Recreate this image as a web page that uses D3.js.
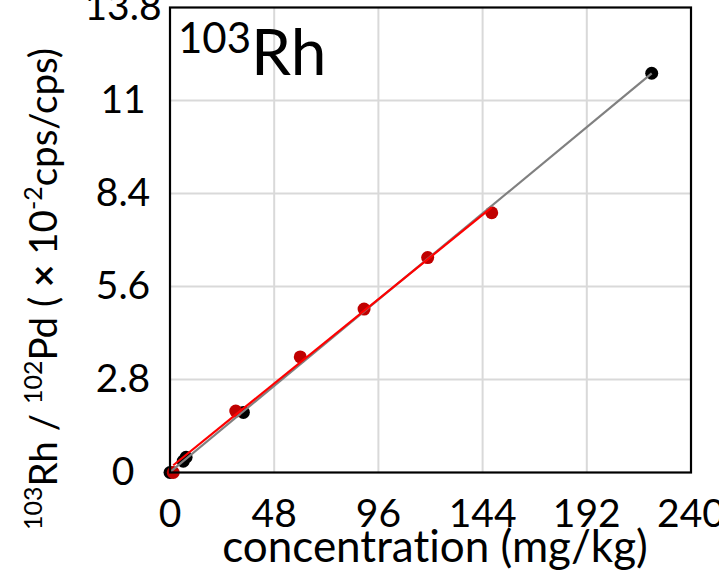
<!DOCTYPE html>
<html>
<head>
<meta charset="utf-8">
<script src="https://cdn.jsdelivr.net/npm/d3@7"></script>
<style>
  html, body { margin: 0; padding: 0; background: #fff; }
  svg { display: block; font-family: Lato, "Open Sans", sans-serif; font-variant-ligatures: none; }
</style>
</head>
<body>
<svg id="chart" width="719" height="577"></svg>
<script>
// Calibration data: concentration (mg/kg) vs. 103Rh/102Pd ratio (x10^-2 cps/cps)
const blackConc  = [0, 6.1, 7.4, 33.8, 221.9];
const blackRatio = [0, 0.34, 0.46, 1.81, 12.02];
const redConc    = [1.5, 30.3, 60.0, 89.4, 118.7, 148.2];
const redRatio   = [0.0, 1.85, 3.48, 4.92, 6.47, 7.82];

const xTicks = [0, 48, 96, 144, 192, 240];
const yTicks = [0, 2.8, 5.6, 8.4, 11.2, 14.0];
const yTickLabels = ["0", "2.8", "5.6", "8.4", "11", "13.8"];

const svg = d3.select("#chart");
const plot = { left: 170, right: 691, top: 7.5, bottom: 472.5 };

const x = d3.scaleLinear().domain([0, 240]).range([plot.left, plot.right]);
const y = d3.scaleLinear().domain([0, 14]).range([plot.bottom, plot.top]);

// gridlines
svg.append("g")
  .selectAll("line")
  .data(xTicks.slice(1, -1))
  .join("line")
  .attr("x1", d => x(d)).attr("x2", d => x(d))
  .attr("y1", plot.top).attr("y2", plot.bottom)
  .attr("stroke", "#d9d9d9").attr("stroke-width", 2);

svg.append("g")
  .selectAll("line")
  .data(yTicks.slice(1, -1))
  .join("line")
  .attr("y1", d => y(d)).attr("y2", d => y(d))
  .attr("x1", plot.left).attr("x2", plot.right)
  .attr("stroke", "#d9d9d9").attr("stroke-width", 2);

// least-squares trend line over a series
function fit(xs, ys) {
  const mx = d3.mean(xs), my = d3.mean(ys);
  let sxy = 0, sxx = 0;
  xs.forEach((v, i) => { sxy += (v - mx) * (ys[i] - my); sxx += (v - mx) * (v - mx); });
  const b = sxy / sxx, a = my - b * mx;
  const x0 = d3.min(xs), x1 = d3.max(xs);
  return [[x0, a + b * x0], [x1, a + b * x1]];
}

const line = d3.line().x(d => x(d[0])).y(d => y(d[1]));

const blackPts = blackConc.map((c, i) => [c, blackRatio[i]]);
const redPts = redConc.map((c, i) => [c, redRatio[i]]);

svg.append("g").selectAll("circle")
  .data(blackPts).join("circle")
  .attr("cx", d => x(d[0])).attr("cy", d => y(d[1])).attr("r", 6.5)
  .attr("fill", "#000");

svg.append("g").selectAll("circle")
  .data(redPts).join("circle")
  .attr("cx", d => x(d[0])).attr("cy", d => y(d[1])).attr("r", 6.5)
  .attr("fill", "#c00000");

svg.append("path")
  .attr("d", line(fit(blackConc, blackRatio)))
  .attr("stroke", "#808080").attr("stroke-width", 2.2).attr("fill", "none");

svg.append("path")
  .attr("d", line(fit(redConc, redRatio)))
  .attr("stroke", "#ff0000").attr("stroke-width", 2.2).attr("fill", "none");

// plot frame
svg.append("rect")
  .attr("x", plot.left).attr("y", plot.top)
  .attr("width", plot.right - plot.left).attr("height", plot.bottom - plot.top)
  .attr("fill", "none").attr("stroke", "#000").attr("stroke-width", 2.2);

// tick labels
svg.append("g").selectAll("text")
  .data(xTicks).join("text")
  .attr("x", d => x(d)).attr("y", 527)
  .attr("text-anchor", "middle")
  .attr("font-size", 39).attr("fill", "#000")
  .text(d => d);

svg.append("g").selectAll("text")
  .data(yTicks).join("text")
  .attr("x", 123).attr("y", d => y(d) + 12)
  .attr("text-anchor", "middle")
  .attr("font-size", 39).attr("fill", "#000")
  .text((d, i) => yTickLabels[i]);

// axis titles
svg.append("text")
  .attr("x", 435).attr("y", 562)
  .attr("text-anchor", "middle")
  .attr("font-size", 44).attr("fill", "#000")
  .text("concentration (mg/kg)");

const yTitle = svg.append("text")
  .attr("transform", "translate(57,289) rotate(-90)")
  .attr("text-anchor", "middle")
  .attr("font-size", 38.5).attr("fill", "#000");
yTitle.append("tspan").attr("font-size", 25).attr("dy", -15).text("103");
yTitle.append("tspan").attr("dy", 15).text("Rh / ");
yTitle.append("tspan").attr("font-size", 25).attr("dy", -15).text("102");
yTitle.append("tspan").attr("dy", 15).text("Pd ( ");
yTitle.append("tspan").attr("font-weight", "bold").text("×");
yTitle.append("tspan").text(" 10");
yTitle.append("tspan").attr("font-size", 25).attr("dy", -15).text("-2");
yTitle.append("tspan").attr("dy", 15).text("cps/cps)");

// isotope title inside the plot
const iso = svg.append("text").attr("x", 178).attr("y", 75).attr("fill", "#000");
iso.append("tspan").attr("font-size", 42).attr("dy", -22).text("103");
iso.append("tspan").attr("font-size", 64).attr("dy", 22).text("Rh");
</script>
</body>
</html>
